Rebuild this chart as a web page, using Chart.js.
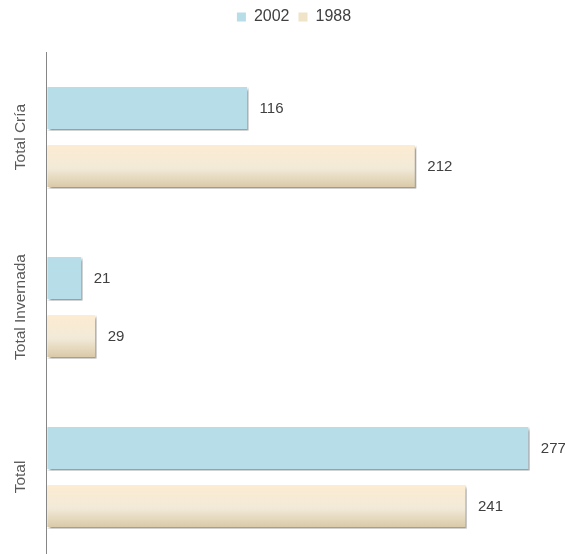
<!DOCTYPE html>
<html>
<head>
<meta charset="utf-8">
<script src="https://cdn.jsdelivr.net/npm/chart.js@4/dist/chart.umd.min.js"></script>
<style>
  html, body { margin: 0; padding: 0; overflow: hidden; background: #fff; }
  #wrap { width: 570px; height: 562px; }
</style>
</head>
<body>
<div id="wrap"><canvas id="barChart"></canvas></div>
<script>
const categories = ['Total Cría', 'Total Invernada', 'Total'];
const values2002 = [116, 21, 277];
const values1988 = [212, 29, 241];
const seriesNames = ['2002', '1988'];

const fontFamily = "'Liberation Sans', Arial, sans-serif";

// legend takes a fixed band so the plot starts at y=52, and sits a bit left
const legendBand = {
    id: 'legendBand',
    beforeInit(chart) {
        const fit = chart.legend.fit;
        chart.legend.fit = function () {
            fit.bind(chart.legend)();
            this.height = 52;
        };
    },
    beforeDraw(chart) {
        chart.legend.left = 18;
        chart.legend.right = 570;
    }
};

// gradient + shadow for the bars
const barLook = {
    id: 'barLook',
    beforeDatasetsDraw(chart) {
        const ctx = chart.ctx;
        chart.getDatasetMeta(1).data.forEach(bar => {
            const top = bar.y - bar.height / 2;
            const g = ctx.createLinearGradient(0, top, 0, top + bar.height);
            g.addColorStop(0, '#fdecd1');
            g.addColorStop(0.55, '#f2ead8');
            g.addColorStop(1, '#d8c7a4');
            bar.options.backgroundColor = g;
        });
        ctx.save();
        ctx.shadowColor = 'rgba(0,0,0,0.4)';
        ctx.shadowBlur = 2.5;
        ctx.shadowOffsetX = 2;
        ctx.shadowOffsetY = 3;
    },
    afterDatasetsDraw(chart) {
        chart.ctx.restore();
    }
};

// value labels and rotated category labels
const labelsPlugin = {
    id: 'labelsPlugin',
    afterDraw(chart) {
        const ctx = chart.ctx;
        ctx.save();
        ctx.font = '15px ' + fontFamily;
        ctx.fillStyle = '#404040';
        ctx.textAlign = 'left';
        ctx.textBaseline = 'middle';
        chart.data.datasets.forEach((ds, i) => {
            chart.getDatasetMeta(i).data.forEach((bar, j) => {
                ctx.fillText(ds.data[j], bar.x + 11, bar.y + 1);
            });
        });
        const y = chart.scales.y;
        ctx.font = '15.5px ' + fontFamily;
        ctx.fillStyle = '#595959';
        ctx.textAlign = 'center';
        categories.forEach((c, j) => {
            ctx.save();
            ctx.translate(21, y.getPixelForTick(j));
            ctx.rotate(-Math.PI / 2);
            ctx.fillText(c, 0, 0);
            ctx.restore();
        });
        ctx.restore();
    }
};

let ctx = document.getElementById('barChart').getContext('2d');
let myBarChart = new Chart(ctx, {
    type: 'bar',
    data: {
        labels: categories,
        datasets: [{
            label: seriesNames[0],
            data: values2002,
            backgroundColor: () => '#b7dde8',
            borderColor: '#ffffff',
            borderWidth: 1.5,
            borderSkipped: false,
            categoryPercentage: 0.682,
            barPercentage: 0.776
        }, {
            label: seriesNames[1],
            data: values1988,
            backgroundColor: () => '#f4ead6',
            borderColor: '#ffffff',
            borderWidth: 1.5,
            borderSkipped: false,
            categoryPercentage: 0.682,
            barPercentage: 0.776
        }]
    },
    options: {
        indexAxis: 'y',
        responsive: true,
        maintainAspectRatio: false,
        animation: false,
        layout: {
            padding: { left: 38, top: 0, right: 0, bottom: 0 }
        },
        scales: {
            x: { display: false, min: 0, max: 300 },
            y: {
                ticks: { display: false },
                grid: { display: false },
                border: { color: '#868686', width: 1, z: 1 }
            }
        },
        plugins: {
            legend: {
                position: 'top',
                labels: {
                    boxWidth: 9,
                    boxHeight: 9,
                    padding: 9,
                    color: '#404040',
                    font: { size: 16, family: fontFamily },
                    generateLabels(chart) {
                        return chart.data.datasets.map((ds, i) => ({
                            text: ds.label,
                            fillStyle: i === 0 ? '#b7dde8' : '#efe3c8',
                            strokeStyle: 'rgba(0,0,0,0)',
                            fontColor: '#404040',
                            lineWidth: 0,
                            datasetIndex: i
                        }));
                    }
                }
            },
            tooltip: { enabled: false }
        }
    },
    plugins: [legendBand, barLook, labelsPlugin]
});
</script>
</body>
</html>
